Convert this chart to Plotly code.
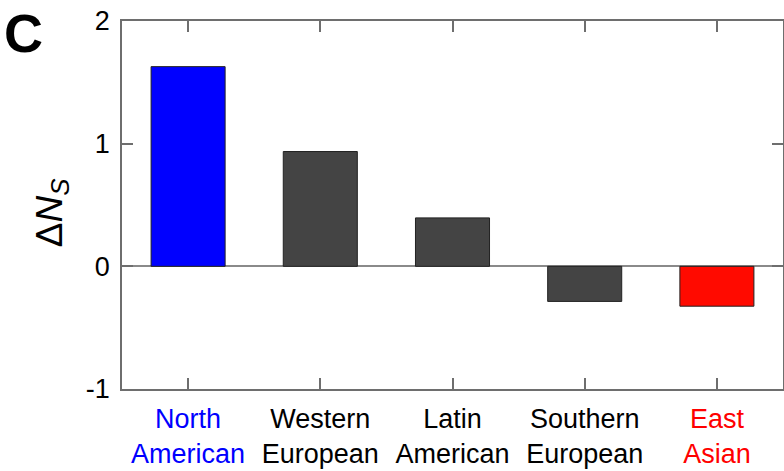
import plotly.graph_objects as go

# Groups and their change in N_s
groups = ["North<br>American", "Western<br>European", "Latin<br>American",
          "Southern<br>European", "East<br>Asian"]
label_colors = ["#0000FF", "#000000", "#000000", "#000000", "#FF0000"]
bar_colors = ["#0000FF", "#444444", "#444444", "#444444", "#FF0A00"]
delta_ns = [1.628, 0.936, 0.395, -0.286, -0.325]

y_ticks = [-1, 0, 1, 2]
y_tick_text = ["-1", "0", "1", "2"]

positions = list(range(1, len(groups) + 1))
tick_text = [f"<span style='color:{c}'>{g}</span>" for g, c in zip(groups, label_colors)]

fig = go.Figure()
fig.add_trace(go.Bar(
    x=positions,
    y=delta_ns,
    width=0.56,
    marker=dict(color=bar_colors, line=dict(color="#222222", width=1)),
    showlegend=False,
))

axis_color = "#6e6e6e"
fig.update_layout(
    width=784,
    height=471,
    margin=dict(l=122, r=1, t=21, b=82),
    paper_bgcolor="white",
    plot_bgcolor="white",
    font=dict(family="Liberation Sans, Arial, sans-serif", color="black", size=27),
    xaxis=dict(
        range=[0.5, 5.5],
        tickvals=positions,
        ticktext=tick_text,
        ticks="inside",
        ticklen=11,
        tickwidth=1.5,
        tickcolor=axis_color,
        showline=True,
        linecolor=axis_color,
        linewidth=1.5,
        mirror="ticks",
        showgrid=False,
        zeroline=False,
        automargin=False,
        tickfont=dict(size=27),
        ticklabelstandoff=5,
    ),
    yaxis=dict(
        range=[-1, 2],
        tickvals=y_ticks,
        ticktext=y_tick_text,
        ticks="inside",
        ticklen=11,
        tickwidth=1.5,
        tickcolor=axis_color,
        showline=True,
        linecolor=axis_color,
        linewidth=1.5,
        mirror="ticks",
        showgrid=False,
        zeroline=True,
        zerolinecolor="#8a8a8a",
        zerolinewidth=1.5,
        automargin=False,
        tickfont=dict(size=27),
        ticklabelstandoff=5,
    ),
)

# Y-axis title, placed explicitly
fig.add_annotation(
    text="Δ<i>N</i><sub><i>S</i></sub>",
    xref="paper", yref="paper",
    x=-0.106, y=0.48,
    xanchor="center", yanchor="middle",
    textangle=-90,
    showarrow=False,
    font=dict(size=37, color="black"),
)

# Panel letter
fig.add_annotation(
    text="<b>C</b>",
    xref="paper", yref="paper",
    x=-0.182, y=1.055,
    xanchor="left", yanchor="top",
    showarrow=False,
    font=dict(size=54, color="black"),
)

fig.write_html("out.html")
